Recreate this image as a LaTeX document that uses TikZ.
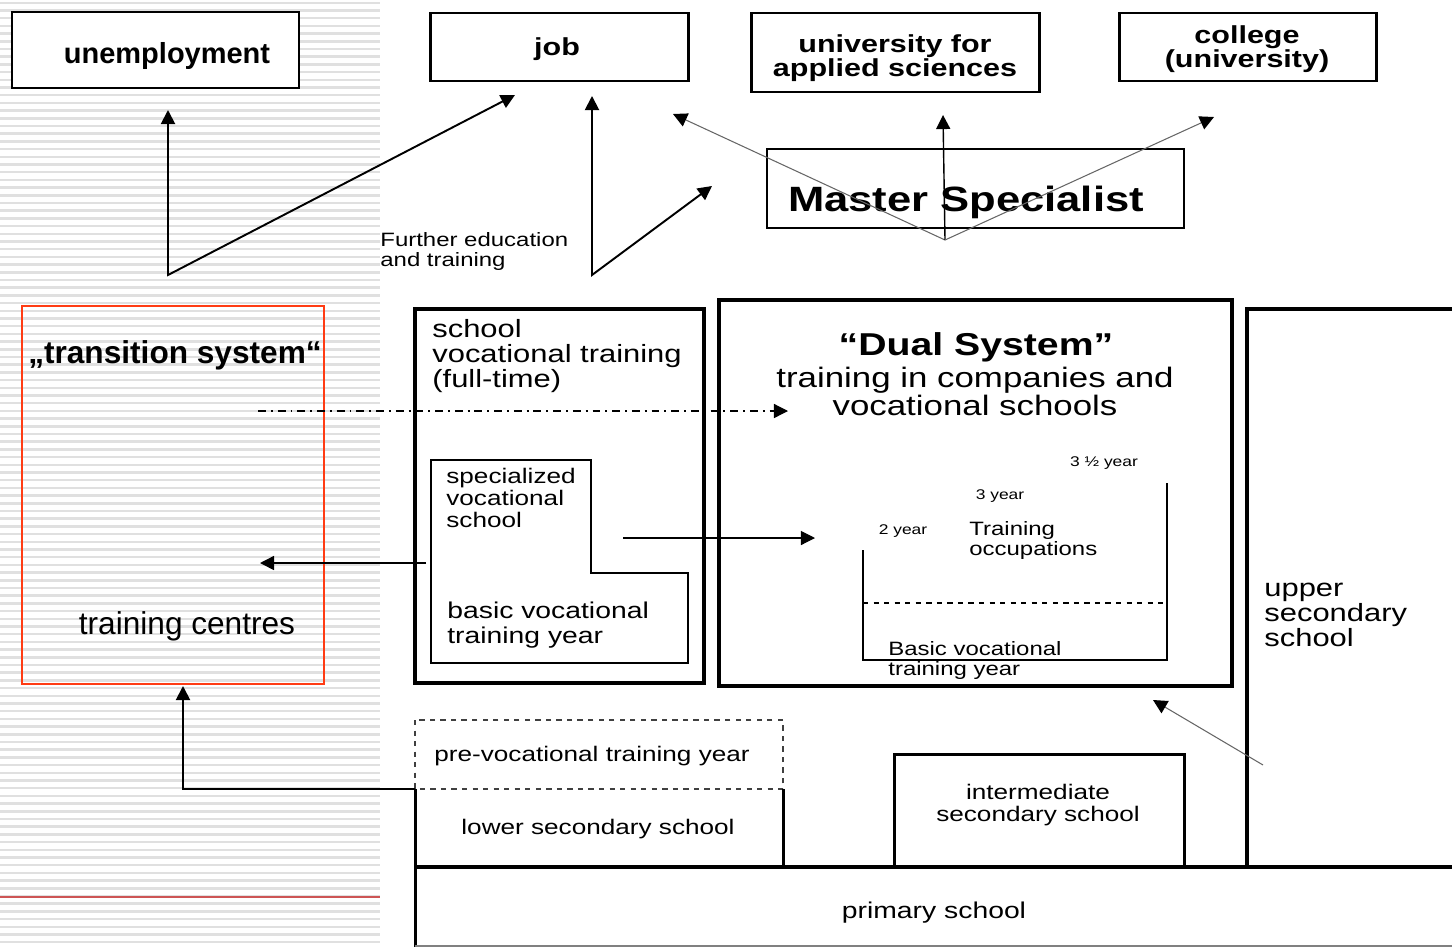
\documentclass[tikz,border=0pt]{standalone}
\usepackage{fontspec}
\setmainfont{Liberation Sans}
\newfontfamily\wide[FakeStretch=1.24]{Liberation Sans}
\usetikzlibrary{arrows.meta}
\definecolor{trred}{RGB}{255,60,20}
\definecolor{linered}{RGB}{205,85,85}
\newcommand{\fsz}[2]{\fontsize{#1}{#2}\selectfont}

\begin{document}
\begin{tikzpicture}[x=0.02cm,y=-0.02cm,
    box/.style={draw,line width=1.7pt},
    thinbox/.style={draw,line width=0.85pt},
    txt/.style={inner sep=0pt},
    tips/.style={{Triangle[length=8pt,width=8pt]}-{Triangle[length=8pt,width=8pt]}},
    tip/.style={-{Triangle[length=8pt,width=8pt,color=black]}},
    arr/.style={line width=1.1pt},
    grayarr/.style={line width=0.6pt,black!60}]
\useasboundingbox (0,0) rectangle (1452,947);

% 左侧条纹背景
\foreach \i in {0,...,122}
    \fill[black!12] (0,\i*7.7+1.5) rectangle (380,\i*7.7+4);
\draw[linered,line width=0.9pt] (0,897) -- (380,897);

% 上排方框
\draw[thinbox,fill=white] (12,12) rectangle (299,88);
\draw[box] (430,13) rectangle (688,81);
\draw[box] (751,13) rectangle (1039,92);
\draw[box] (1119,13) rectangle (1376,81);
\draw[line width=0.6pt] (767,149) rectangle (1184,228);
\node[txt,font=\bfseries\fsz{16.5}{18}] (unemp) at (167,56) {unemployment};
\node[txt,font=\wide\bfseries\fsz{14}{14}] (job) at (557,49) {job};
\node[txt,font=\wide\bfseries\fsz{14}{11.5},align=center] (uas) at (895,58) {university for\\applied sciences};
\node[txt,font=\wide\bfseries\fsz{14}{13.6},align=center] (college) at (1247,49) {college\\(university)};
\node[txt,font=\wide\bfseries\fsz{20}{22}] (master) at (966,202) {Master Specialist};
\node[txt,font=\wide\fsz{11}{11.3},align=left,anchor=north west] (further) at (380,232) {Further education\\and training};

% 过渡系统
\draw[trred,line width=0.9pt] (22,306) rectangle (324,684);
\node[txt,font=\bfseries\fsz{18}{20}] (trans) at (175,355) {„transition system“};
\node[txt,font=\fsz{18}{20}] (centres) at (187,626) {training centres};

% 全日制职业学校
\draw[line width=2pt] (415,309) rectangle (704,683);
\draw[line width=0.7pt] (431,460) -- (591,460) -- (591,573) -- (688,573) -- (688,663) -- (431,663) -- cycle;
\node[txt,font=\wide\fsz{14.2}{14.2},align=left,anchor=north west] (svt) at (432,319) {school\\vocational training\\(full-time)};
\node[txt,font=\wide\fsz{12}{12.5},align=left,anchor=north west] (spec) at (446,468) {specialized\\vocational\\school};
\node[txt,font=\wide\fsz{13}{14.2},align=left,anchor=north west] (bvty) at (447,602) {basic vocational\\training year};

% 双元制
\draw[line width=2.8pt] (719,300) rectangle (1232,686);
\node[txt,font=\wide\bfseries\fsz{18}{20}] (dualhead) at (976,347) {“Dual System”};
\node[txt,font=\wide\fsz{16}{16},align=center] (dualsub) at (975,391) {training in companies and\\vocational schools};
\draw[line width=0.7pt] (863,550) -- (863,660) -- (1167,660) -- (1167,483);
\draw[dashed,line width=0.6pt] (863,603) -- (1167,603);
\node[txt,font=\wide\fsz{8}{8}] (ythree5) at (1104,463) {3 ½ year};
\node[txt,font=\wide\fsz{8}{8}] (ythree) at (1000,496) {3 year};
\node[txt,font=\wide\fsz{8}{8}] (ytwo) at (903,531) {2 year};
\node[txt,font=\wide\fsz{11}{11.3},align=left,anchor=north west] (occ) at (969,521) {Training\\occupations};
\node[txt,font=\wide\fsz{11}{11.3},align=left,anchor=north west] (bvtd) at (888,641) {Basic vocational\\training year};

% 高中
\draw[line width=2.2pt] (1460,309) -- (1247,309) -- (1247,866);
\node[txt,font=\wide\fsz{14.2}{14.2},align=left,anchor=north west] (upper) at (1264,583) {upper\\secondary\\school};

% 底部学校
\draw[dashed,line width=0.8pt,black!75] (415,720) rectangle (783,789);
\draw[line width=1.7pt] (415,789) -- (415,947);
\draw[line width=1.7pt] (783,789) -- (783,867);
\draw[box] (894,867) -- (894,754) -- (1184,754) -- (1184,867);
\draw[line width=2.2pt] (415,867) -- (1452,867);
\draw[line width=0.6pt,black!50] (415,946) -- (1452,946);
\node[txt,font=\wide\fsz{12}{12}] (prevoc) at (592,756) {pre-vocational training year};
\node[txt,font=\wide\fsz{12}{12}] (lower) at (598,829) {lower secondary school};
\node[txt,font=\wide\fsz{12}{12.5},align=center] (inter) at (1038,805) {intermediate\\secondary school};
\node[txt,font=\wide\fsz{13}{13}] (primary) at (934,913) {primary school};

% 箭头
\coordinate (ucorner) at (168,275);
\coordinate (utip) at (168,110);
\coordinate (jtipa) at (515,95);
\draw[arr,tips] (utip) -- (ucorner) -- (jtipa);
\coordinate (fcorner) at (592,275);
\coordinate (jtipb) at (592,96);
\coordinate (mtip) at (712,186);
\draw[arr,tips] (jtipb) -- (fcorner) -- (mtip);
\coordinate (msbase) at (945,240);
\coordinate (tipjob) at (673,114);
\coordinate (tipuas) at (943,115);
\coordinate (tipcol) at (1214,117);
\draw[grayarr,tip] (msbase) -- (tipjob);
\draw[line width=0.8pt,tip] (msbase) -- (tipuas);
\draw[grayarr,tip] (msbase) -- (tipcol);
\coordinate (dda) at (258,411);
\coordinate (ddb) at (788,411);
\draw[line width=0.7pt,dash pattern=on 4.5pt off 2.8pt on 1.1pt off 2.8pt,tip] (dda) -- (ddb);
\coordinate (svout) at (426,563);
\coordinate (tcin) at (260,563);
\draw[line width=0.85pt,tip] (svout) -- (tcin);
\coordinate (spout) at (623,538);
\coordinate (dsin) at (815,538);
\draw[line width=0.6pt,tip] (spout) -- (dsin);
\coordinate (upout) at (1263,765);
\coordinate (dsbot) at (1153,700);
\draw[grayarr,tip] (upout) -- (dsbot);
\coordinate (lsout) at (415,789);
\coordinate (lcorner) at (183,789);
\coordinate (trbot) at (183,686);
\draw[arr,tip] (lsout) -- (lcorner) -- (trbot);

\end{tikzpicture}
\end{document}
